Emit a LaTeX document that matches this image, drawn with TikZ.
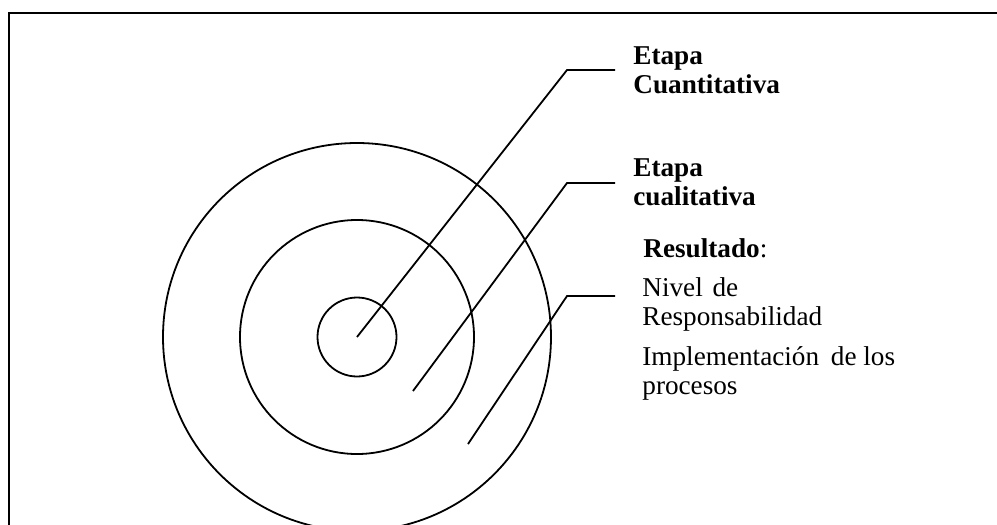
\documentclass[tikz,border=0pt]{standalone}
\usepackage{fontspec}
\setmainfont{Liberation Serif}
\usepackage{tikz}

\tikzset{
  ring/.style={circle, draw, line width=0.9pt, inner sep=0pt, outer sep=0pt},
  leader/.style={line width=0.9pt},
  lbl/.style={anchor=base west, align=left, inner sep=0pt,
    font=\fontsize{13.6}{14.5}\selectfont}
}

\begin{document}
\begin{tikzpicture}[x=0.5pt, y=-0.5pt]
        \useasboundingbox (0,0) rectangle (997,525);
        \clip (0,0) rectangle (997,525);
        \fill[white] (0,0) rectangle (997,525);
        \draw[line width=1.1pt] (9,13) rectangle (1010,540);

        \node[ring, minimum size=194pt] (outer) at (357,337) {};
        \node[ring, minimum size=117pt] (middle) at (357,337) {};
        \node[ring, minimum size=39.5pt] (core) at (357,337) {};

        \node[lbl] (stageA) at (633,93) {\textbf{Etapa}\\\textbf{Cuantitativa}};
        \node[lbl] (stageB) at (633,205) {\textbf{Etapa}\\\textbf{cualitativa}};
        \node[lbl] (result) at (643,257) {\textbf{Resultado}:};
        \node[lbl] (level) at (642,325) {Nivel\hspace{1.5pt} de\\Responsabilidad};
        \node[lbl] (impl) at (642,394) {Implementación\hspace{2.5pt} de los\\procesos};

        \coordinate (midPt) at (413,391);
        \coordinate (outPt) at (468,444);
        \coordinate (kneeA) at (567,70);
        \coordinate (kneeB) at (567,183);
        \coordinate (kneeC) at (567,296);
        \coordinate (endA) at (615,70);
        \coordinate (endB) at (615,183);
        \coordinate (endC) at (615,296);

        \draw[leader] (core.center) -- (kneeA) -- (endA);
        \draw[leader] (midPt) -- (kneeB) -- (endB);
        \draw[leader] (outPt) -- (kneeC) -- (endC);
      \end{tikzpicture}
\end{document}
